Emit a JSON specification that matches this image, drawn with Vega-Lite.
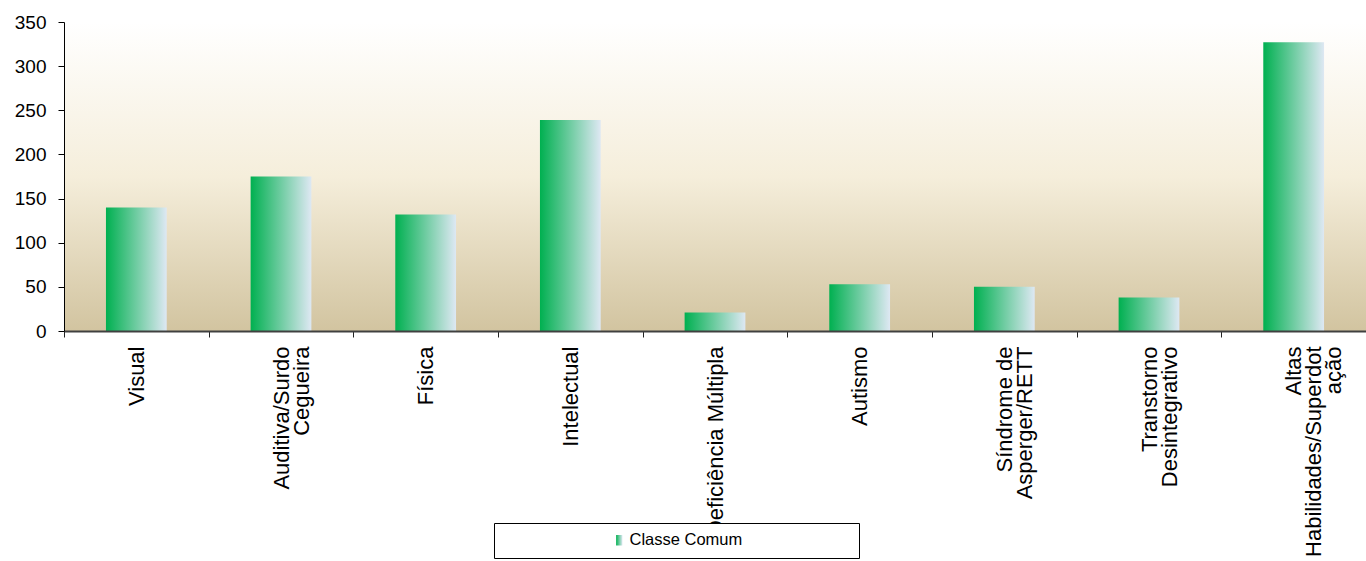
{
  "$schema": "https://vega.github.io/schema/vega-lite/v6.json",
  "width": 1302,
  "height": 309,
  "autosize": {"type": "none"},
  "padding": {"left": 64, "top": 22, "right": 0, "bottom": 230},
  "background": "white",
  "config": {"view": {"stroke": null}, "font": "Liberation Sans"},
  "data": {"values": [
    {"categoria": "Visual", "valor": 140, "serie": "Classe Comum"},
    {"categoria": "Auditiva/Surdo\nCegueira", "valor": 175, "serie": "Classe Comum"},
    {"categoria": "Física", "valor": 132, "serie": "Classe Comum"},
    {"categoria": "Intelectual", "valor": 239, "serie": "Classe Comum"},
    {"categoria": "Deficiência Múltipla", "valor": 21, "serie": "Classe Comum"},
    {"categoria": "Autismo", "valor": 53, "serie": "Classe Comum"},
    {"categoria": "Síndrome de\nAsperger/RETT", "valor": 50, "serie": "Classe Comum"},
    {"categoria": "Transtorno\nDesintegrativo", "valor": 38, "serie": "Classe Comum"},
    {"categoria": "Altas\nHabilidades/Superdot\nação", "valor": 327, "serie": "Classe Comum"}
  ]},
  "layer": [
    {
      "data": {"values": [{}]},
      "mark": {"type": "rect", "fill": {"gradient": "linear", "x1": 0, "y1": 0, "x2": 0, "y2": 1, "stops": [{"offset": 0, "color": "#ffffff"}, {"offset": 0.5, "color": "#f5eedb"}, {"offset": 1, "color": "#d2c4a0"}]}},
      "encoding": {
        "y": {"datum": 350, "type": "quantitative", "scale": {"domain": [0, 350], "nice": false}},
        "y2": {"datum": 0}
      }
    },
    {
      "mark": {"type": "bar", "width": {"band": 0.42}, "fill": {"gradient": "linear", "x1": 0, "y1": 0, "x2": 1, "y2": 0, "stops": [{"offset": 0, "color": "#00b050"}, {"offset": 1, "color": "#dee8f3"}]}},
      "encoding": {
        "x": {"field": "categoria", "type": "nominal", "sort": null, "scale": {"paddingInner": 0, "paddingOuter": 0},
          "axis": {"title": null, "zindex": 1, "domainColor": "#404040", "domainWidth": 2, "tickBand": "extent", "tickSize": 6, "tickColor": "#222222", "labelAngle": -90, "labelPadding": 9, "labelLimit": 400, "labelOverlap": false, "labelBound": false, "labelFont": "Liberation Sans", "labelFontSize": 22, "labelLineHeight": 20, "labelColor": "black", "labelExpr": "split(datum.label, '\\n')"}},
        "y": {"field": "valor", "type": "quantitative", "scale": {"domain": [0, 350], "nice": false},
          "axis": {"title": null, "zindex": 1, "grid": false, "values": [0, 50, 100, 150, 200, 250, 300, 350], "domainColor": "black", "tickColor": "black", "tickSize": 6, "labelPadding": 12, "labelFont": "Liberation Sans", "labelFontSize": 19, "labelColor": "black"}}
      }
    },
    {
      "mark": {"type": "point", "size": 0, "filled": true, "fill": {"gradient": "linear", "x1": 0, "y1": 0, "x2": 1, "y2": 0, "stops": [{"offset": 0, "color": "#00b050"}, {"offset": 1, "color": "#dee8f3"}]}},
      "encoding": {
        "x": {"field": "categoria", "type": "nominal", "sort": null},
        "y": {"field": "valor", "type": "quantitative"},
        "shape": {"field": "serie", "type": "nominal", "scale": {"range": ["M-0.6,-1H0.6V1H-0.6Z"]},
          "legend": {"title": "\u00a0", "titleOrient": "right", "titleFontSize": 16, "titlePadding": 108, "orient": "none", "legendX": 430, "legendY": 501, "direction": "horizontal", "zindex": 2, "fillColor": "white", "strokeColor": "black", "padding": 9, "symbolOffset": 108, "symbolSize": 110, "symbolStrokeWidth": 0, "symbolOpacity": 1, "labelFont": "Liberation Sans", "labelFontSize": 16.5, "labelColor": "black", "labelOffset": 2, "labelLimit": 500}}
      }
    }
  ]
}
